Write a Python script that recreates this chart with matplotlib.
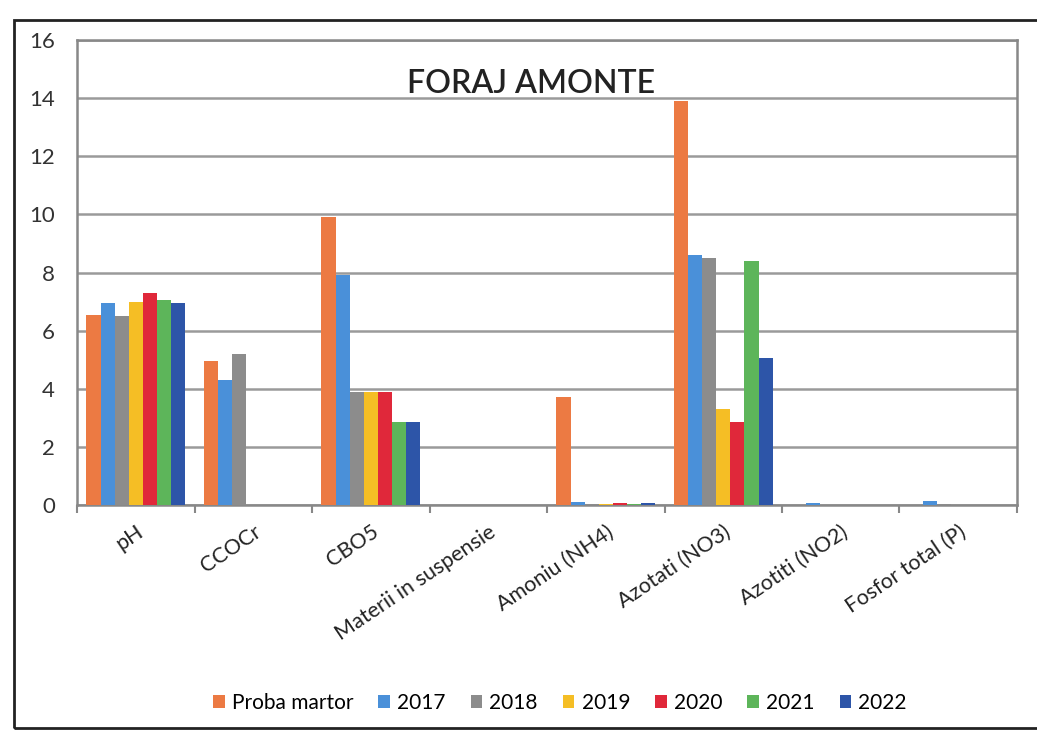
import numpy as np
import matplotlib.pyplot as plt
from matplotlib.patches import Rectangle

plt.rcParams['font.family'] = ['Lato', 'DejaVu Sans']

# Data
categories = ['pH', 'CCOCr', 'CBO5', 'Materii in suspensie', 'Amoniu (NH4)',
              'Azotati (NO3)', 'Azotiti (NO2)', 'Fosfor total (P)']
series_names = ['Proba martor', '2017', '2018', '2019', '2020', '2021', '2022']

proba_martor = [6.55, 4.95, 9.9, np.nan, 3.7, 13.9, np.nan, np.nan]
y2017 = [6.95, 4.3, 7.9, np.nan, 0.12, 8.6, 0.06, 0.15]
y2018 = [6.5, 5.2, 3.9, np.nan, 0.05, 8.5, np.nan, 0.05]
y2019 = [7.0, np.nan, 3.9, np.nan, 0.04, 3.3, np.nan, np.nan]
y2020 = [7.3, np.nan, 3.9, np.nan, 0.08, 2.85, np.nan, np.nan]
y2021 = [7.05, np.nan, 2.85, np.nan, 0.04, 8.4, np.nan, np.nan]
y2022 = [6.95, np.nan, 2.85, np.nan, 0.08, 5.05, np.nan, np.nan]

series = [proba_martor, y2017, y2018, y2019, y2020, y2021, y2022]
colors = ['#EC7A43', '#4A90D9', '#8C8C8C', '#F5BE25', '#E0283A', '#5DB55A', '#2D55A8']

fig = plt.figure(figsize=(10.37, 7.42), dpi=100)
ax = fig.add_axes([0.0743, 0.3194, 0.9064, 0.6266])

x = np.arange(len(categories))
w = 0.12
for j, (vals, col, name) in enumerate(zip(series, colors, series_names)):
    ax.bar(x + (j - 3) * w, vals, width=w, color=col, label=name, zorder=3)

ax.set_xlim(-0.5, len(categories) - 0.5)
ax.set_ylim(0, 16)
ax.set_yticks(range(0, 17, 2))
ax.yaxis.grid(True, color='#9a9a9a', linewidth=1.8, zorder=0)
ax.set_axisbelow(True)

# category boundary ticks
ax.set_xticks(np.arange(-0.5, len(categories), 1.0), minor=True)
ax.set_xticks(x)
ax.set_xticklabels(categories, rotation=34, ha='right', rotation_mode='anchor',
                   fontsize=15.5, color='#222222')
ax.tick_params(axis='x', which='major', length=0, pad=12)
ax.tick_params(axis='x', which='minor', length=6, color='#888888', width=1.5)
ax.tick_params(axis='y', length=0, labelsize=16, colors='#333333', pad=16)
for s in ax.spines.values():
    s.set_color('#888888')
    s.set_linewidth(1.8)

ax.text(0.483, 0.905, 'FORAJ AMONTE', transform=ax.transAxes, ha='center',
        va='center', fontsize=23, fontweight='semibold', color='#222222')

fig.legend(loc='center', bbox_to_anchor=(0.54, 0.053), ncol=7, frameon=False,
           fontsize=15, handlelength=0.55, handleheight=0.55, handletextpad=0.35,
           columnspacing=1.2)

# outer chart border
fig.patches.append(Rectangle((14 / 1037, 1 - 728 / 742), 1.1, (728 - 20) / 742,
                             transform=fig.transFigure, fill=False,
                             edgecolor='#222222', linewidth=2))

fig.savefig('out.png', dpi=100)
